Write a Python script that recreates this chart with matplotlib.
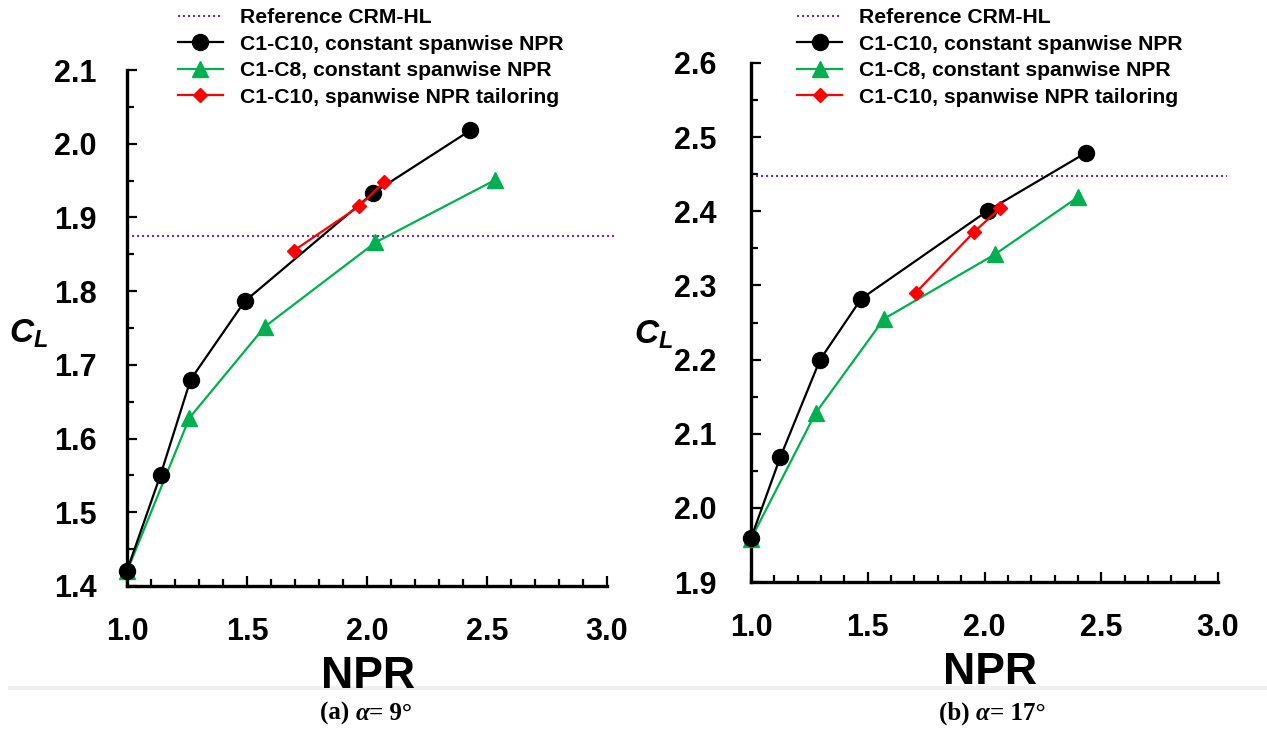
import matplotlib
matplotlib.use("Agg")
import matplotlib.pyplot as plt
from matplotlib import font_manager as fm
from matplotlib.ticker import MultipleLocator, FormatStrFormatter
from matplotlib.lines import Line2D

# ---------------- data ----------------
npr_black_a = [1.0, 1.14, 1.265, 1.49, 2.025, 2.43]
cl_black_a = [1.421, 1.551, 1.680, 1.786, 1.933, 2.018]
npr_green_a = [1.0, 1.26, 1.575, 2.035, 2.535]
cl_green_a = [1.420, 1.628, 1.752, 1.866, 1.951]
npr_red_a = [1.695, 1.967, 2.07]
cl_red_a = [1.855, 1.915, 1.948]
ref_a = 1.875

npr_black_b = [1.0, 1.125, 1.296, 1.472, 2.015, 2.435]
cl_black_b = [1.959, 2.068, 2.200, 2.282, 2.401, 2.479]
npr_green_b = [1.0, 1.277, 1.57, 2.045, 2.40]
cl_green_b = [1.958, 2.128, 2.255, 2.342, 2.419]
npr_red_b = [1.705, 1.955, 2.066]
cl_red_b = [2.290, 2.372, 2.404]
ref_b = 2.447

legend_labels = ["Reference CRM-HL", "C1-C10, constant spanwise NPR",
                 "C1-C8, constant spanwise NPR", "C1-C10, spanwise NPR tailoring"]
captions = [("(a) ", "\u03b1", "= 9\u00b0"), ("(b) ", "\u03b1", "= 17\u00b0")]

# ---------------- fonts ----------------
narrow_path = None
for f in fm.fontManager.ttflist:
    w = f.weight
    isbold = (w == "bold") or (isinstance(w, int) and w >= 700)
    if f.name == "Liberation Sans Narrow" and isbold and f.style == "normal":
        narrow_path = f.fname
        break

if narrow_path:
    def nprop(size):
        return fm.FontProperties(fname=narrow_path, size=size)
    LEG_SIZE, NPR_SIZE = 17, 36
else:
    def nprop(size):
        return fm.FontProperties(family="Liberation Sans", weight="bold", size=size)
    LEG_SIZE, NPR_SIZE = 15.2, 32

plt.rcParams["font.family"] = ["Liberation Sans", "DejaVu Sans"]
plt.rcParams["mathtext.fontset"] = "custom"
plt.rcParams["mathtext.it"] = "Liberation Sans:italic:bold"
plt.rcParams["mathtext.rm"] = "Liberation Sans:bold"

W, H = 1267, 729
fig = plt.figure(figsize=(W / 100, H / 100), dpi=100)

def fx(px):
    return px / W

def fy(py):
    return 1 - py / H

BLACK = "#000000"
GREEN = "#00b050"
RED = "#ff0000"
PURPLE = "#7030a0"

def make_axes(x0, x1, ytop, ybot, ylim, ypad, data, ref):
    ax = fig.add_axes([fx(x0), fy(ybot), fx(x1) - fx(x0), fy(ytop) - fy(ybot)])
    ax.set_xlim(1.0, 3.0)
    ax.set_ylim(*ylim)
    for s in ["top", "right"]:
        ax.spines[s].set_visible(False)
    for s in ["left", "bottom"]:
        ax.spines[s].set_linewidth(2.4)
    ax.xaxis.set_major_locator(MultipleLocator(0.5))
    ax.xaxis.set_minor_locator(MultipleLocator(0.1))
    ax.yaxis.set_major_locator(MultipleLocator(0.1))
    ax.yaxis.set_minor_locator(MultipleLocator(0.05))
    ax.xaxis.set_major_formatter(FormatStrFormatter("%.1f"))
    ax.yaxis.set_major_formatter(FormatStrFormatter("%.1f"))
    ax.tick_params(which="major", direction="in", length=7.5, width=1.6,
                   labelsize=22)
    ax.tick_params(which="minor", direction="in", length=5, width=1.6)
    ax.tick_params(axis="x", which="major", pad=22)
    ax.tick_params(axis="y", which="major", pad=ypad)
    for lab in ax.get_xticklabels() + ax.get_yticklabels():
        lab.set_fontweight("bold")
    (bx, by), (gx, gy), (rx, ry) = data
    ax.plot([1.0, 3.04], [ref, ref], ls=(0, (1, 1.4)), lw=1.5, color=PURPLE,
            clip_on=False, label=legend_labels[0])
    ax.plot(bx, by, "-o", color=BLACK, lw=1.6, ms=11.5, clip_on=False, zorder=4,
            label=legend_labels[1])
    ax.plot(gx, gy, "-^", color=GREEN, lw=1.6, ms=11, clip_on=False, zorder=3,
            label=legend_labels[2])
    ax.plot(rx, ry, "-D", color=RED, lw=1.6, ms=7, clip_on=False, zorder=5,
            label=legend_labels[3])
    return ax

ax1 = make_axes(127, 607, 70, 586, (1.4, 2.1), 22,
                [(npr_black_a, cl_black_a), (npr_green_a, cl_green_a), (npr_red_a, cl_red_a)], ref_a)
ax2 = make_axes(751, 1218, 63, 582, (1.9, 2.6), 25,
                [(npr_black_b, cl_black_b), (npr_green_b, cl_green_b), (npr_red_b, cl_red_b)], ref_b)

for ax, lx in [(ax1, 178), (ax2, 797)]:
    h, l = ax.get_legend_handles_labels()
    leg = ax.legend(h, l, loc="upper left", bbox_to_anchor=(fx(lx), fy(8)),
                    bbox_transform=fig.transFigure, frameon=False,
                    borderpad=0, borderaxespad=0, handlelength=45 / (LEG_SIZE * 100 / 72),
                    handletextpad=17 / (LEG_SIZE * 100 / 72), labelspacing=0.36,
                    numpoints=1, prop=nprop(LEG_SIZE))

# axis labels
fig.text(fx(368), fy(688), "NPR", ha="center", va="baseline",
         fontproperties=nprop(NPR_SIZE))
fig.text(fx(990), fy(684), "NPR", ha="center", va="baseline",
         fontproperties=nprop(NPR_SIZE))
fig.text(fx(29), fy(334), r"$C_L$", ha="center", va="center", fontsize=24)
fig.text(fx(654), fy(335), r"$C_L$", ha="center", va="center", fontsize=24)

# separator band
fig.add_artist(Line2D([fx(10), 1.0], [fy(688), fy(688)], color="#f0f0f0",
                      lw=3, transform=fig.transFigure))

# captions
renderer = fig.canvas.get_renderer()
def rich_caption(cx, base_y, parts):
    styles = [dict(weight="bold", style="normal"), dict(weight="bold", style="italic"),
              dict(weight="bold", style="normal")]
    texts = []
    for p, st in zip(parts, styles):
        t = fig.text(0, fy(base_y), p, family="Liberation Serif", fontsize=18,
                     va="baseline", ha="left", **st)
        texts.append(t)
    widths = [t.get_window_extent(renderer).width for t in texts]
    total = sum(widths)
    x = cx - total / 2
    for t, w in zip(texts, widths):
        t.set_x(fx(x))
        x += w

rich_caption(366, 720, captions[0])
rich_caption(992, 720, captions[1])

fig.savefig("out.png", dpi=100)
